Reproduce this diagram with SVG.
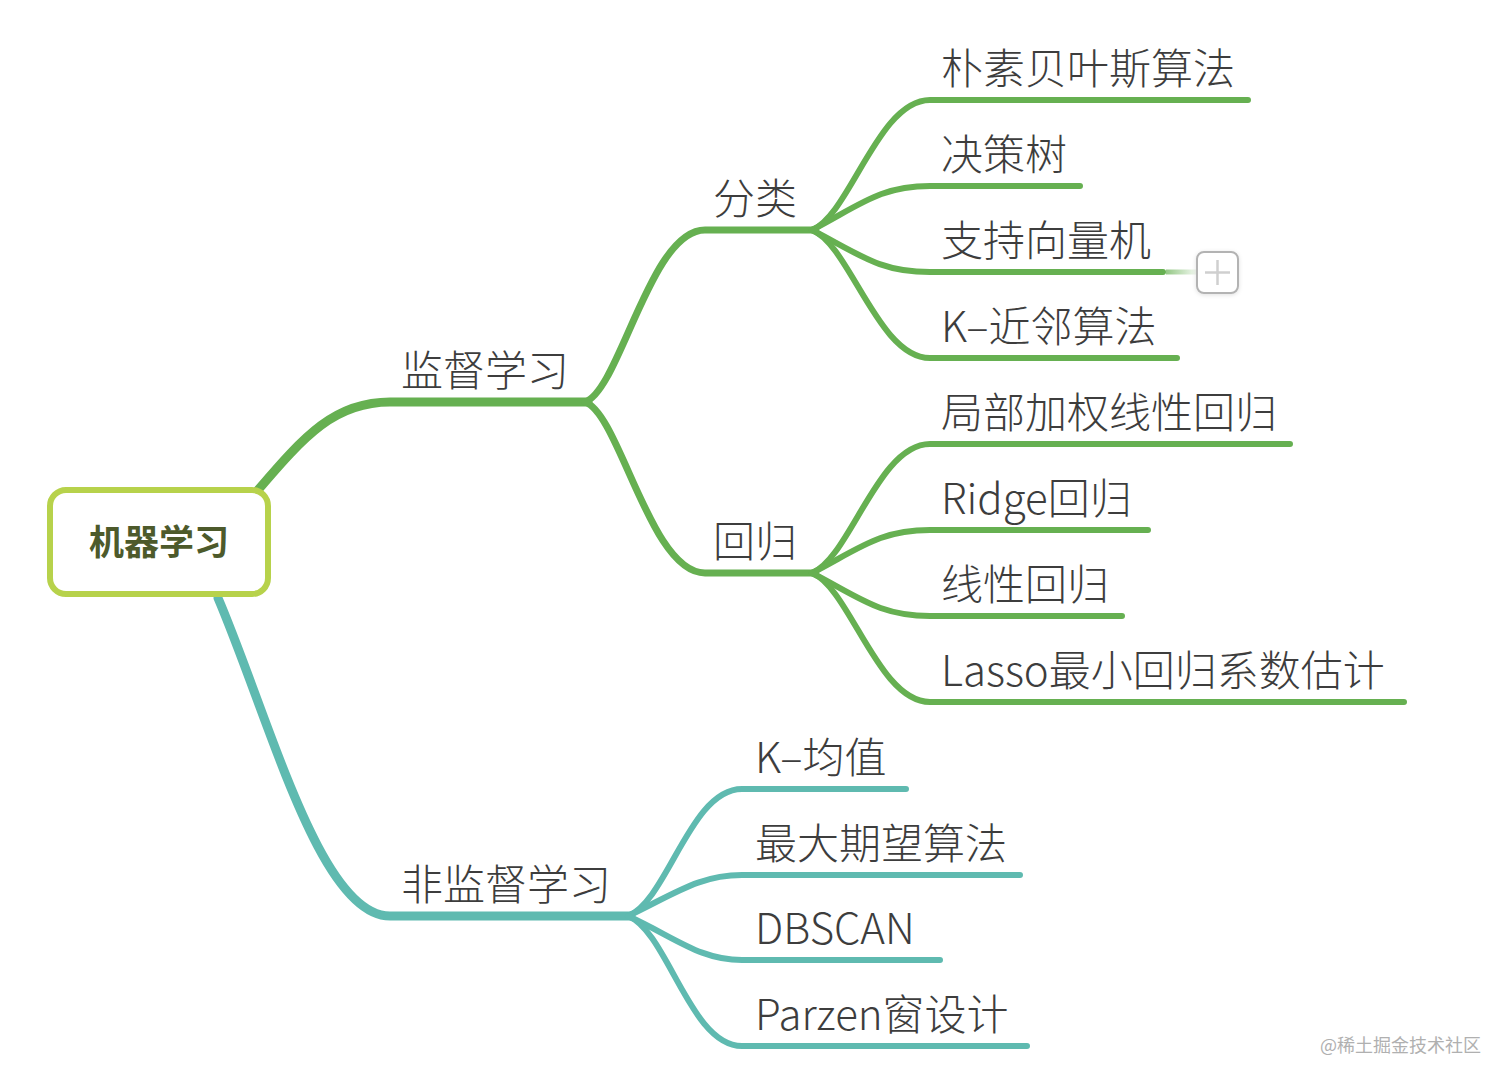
<svg xmlns="http://www.w3.org/2000/svg" width="1508" height="1084" viewBox="0 0 1508 1084">
<defs>
<style>
.t{font-family:"Noto Sans CJK SC","Noto Sans",sans-serif;font-size:42px;font-weight:300;fill:#3d3d3d}
.g{fill:none;stroke:#66b051;stroke-linecap:round;stroke-linejoin:round}
.c{fill:none;stroke:#5fbab0;stroke-linecap:round;stroke-linejoin:round}
.l1{stroke-width:9}
.l2{stroke-width:7}
.l3{stroke-width:6}
</style>
<linearGradient id="fade" x1="0" y1="0" x2="1" y2="0">
<stop offset="0" stop-color="#66b051" stop-opacity="0.7"/>
<stop offset="1" stop-color="#66b051" stop-opacity="0.05"/>
</linearGradient>
<filter id="sh" x="-30%" y="-30%" width="160%" height="160%">
<feDropShadow dx="0" dy="1" stdDeviation="2" flood-color="#000" flood-opacity="0.12"/>
</filter>
</defs>
<rect width="1508" height="1084" fill="#ffffff"/>
<g id="connectors">
<path class="g l1" d="M258 490 C305 435 335 402 390 402 L588 402"/>
<path class="g l2" d="M585 402 C620 390 650 230 705 230 L815 230"/>
<path class="g l2" d="M585 402 C620 414 650 573 705 573 L815 573"/>
<path class="g l3" d="M812 230 C850 215 878 100 930 100 L1248 100"/>
<path class="g l3" d="M812 230 C860 205 880 186 930 186 L1080 186"/>
<path class="g l3" d="M812 230 C860 255 880 272 930 272 L1163 272"/>
<path class="g l3" d="M812 230 C850 245 878 358 930 358 L1177 358"/>
<path class="g l3" d="M812 573 C850 558 878 444 930 444 L1290 444"/>
<path class="g l3" d="M812 573 C860 548 880 530 930 530 L1148 530"/>
<path class="g l3" d="M812 573 C860 598 880 616 930 616 L1122 616"/>
<path class="g l3" d="M812 573 C850 588 878 702 930 702 L1404 702"/>
<path class="c l1" d="M218 598 C270 720 320 916 390 916 L630 916"/>
<path class="c l3" d="M628 916 C668 900 690 789 742 789 L906 789"/>
<path class="c l3" d="M628 916 C676 893 700 875 742 875 L1020 875"/>
<path class="c l3" d="M628 916 C676 938 700 960 742 960 L940 960"/>
<path class="c l3" d="M628 916 C668 932 690 1046 742 1046 L1027 1046"/>
<rect x="1166" y="269.5" width="32" height="5" fill="url(#fade)"/>
</g>
<g id="root">
<rect x="50" y="490" width="218" height="104" rx="16" fill="#ffffff" stroke="#b7d24b" stroke-width="6"/>
<text x="159" y="555" text-anchor="middle" style="font-family:'Noto Sans CJK SC','Noto Sans',sans-serif;font-size:35px;font-weight:bold;fill:#4d5a2b">机器学习</text>
</g>
<g id="n-jiandu"><text class="t" x="401" y="386">监督学习</text></g>
<g id="n-fenlei"><text class="t" x="713" y="214">分类</text></g>
<g id="n-huigui"><text class="t" x="713" y="557">回归</text></g>
<g id="n-pusu"><text class="t" x="941" y="84">朴素贝叶斯算法</text></g>
<g id="n-juece"><text class="t" x="941" y="170">决策树</text></g>
<g id="n-svm"><text class="t" x="941" y="256">支持向量机</text></g>
<g id="n-knn"><text class="t" x="941" y="342">K–近邻算法</text></g>
<g id="n-jubu"><text class="t" x="941" y="428">局部加权线性回归</text></g>
<g id="n-ridge"><text class="t" x="941" y="514">Ridge回归</text></g>
<g id="n-xianxing"><text class="t" x="941" y="600">线性回归</text></g>
<g id="n-lasso"><text class="t" x="941" y="686">Lasso最小回归系数估计</text></g>
<g id="n-feijiandu"><text class="t" x="401" y="900">非监督学习</text></g>
<g id="n-kmeans"><text class="t" x="755" y="773">K–均值</text></g>
<g id="n-em"><text class="t" x="755" y="859">最大期望算法</text></g>
<g id="n-dbscan"><text class="t" x="755" y="944">DBSCAN</text></g>
<g id="n-parzen"><text class="t" x="755" y="1030">Parzen窗设计</text></g>
<g id="plus">
<rect x="1197" y="252" width="41" height="41" rx="7" fill="#ffffff" stroke="#b3b3b3" stroke-width="2" filter="url(#sh)"/>
<path d="M1205 272.5 H1230 M1217.5 260 V285" stroke="#cfcfcf" stroke-width="2.5" fill="none"/>
</g>
<text x="1320" y="1052" style="font-family:'Noto Sans CJK SC',sans-serif;font-size:18px;fill:#b0b0b0">@稀土掘金技术社区</text>
</svg>
